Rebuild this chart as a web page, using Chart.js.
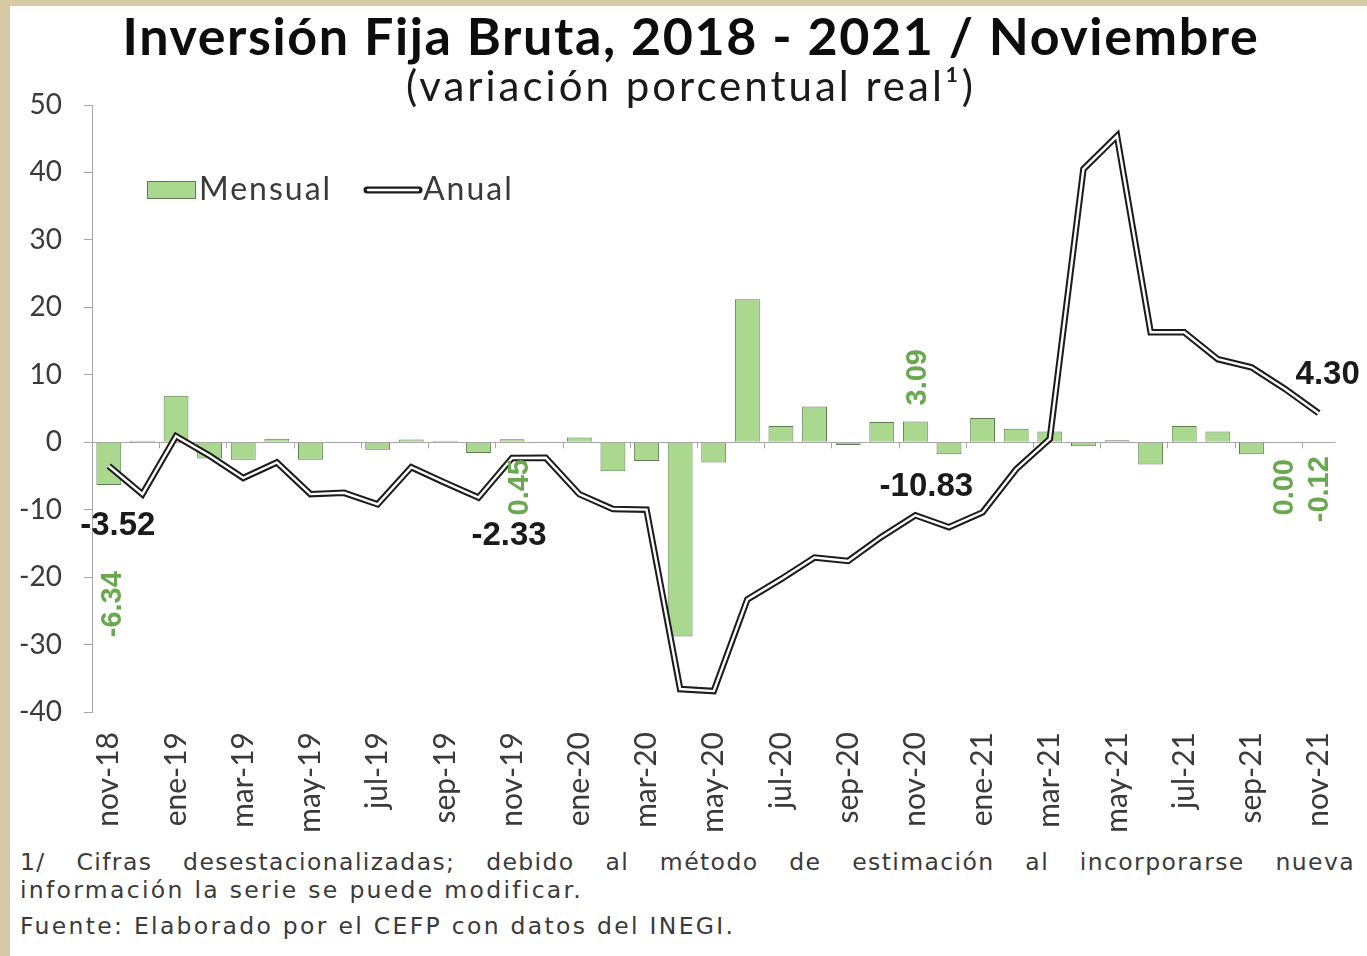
<!DOCTYPE html>
<html lang="es">
<head>
<meta charset="utf-8">
<title>Inversión Fija Bruta</title>
<script src="https://cdn.jsdelivr.net/npm/chart.js@4"></script>
<style>
  html, body { margin: 0; padding: 0; }
  body { width: 1367px; height: 956px; background: #d6caa6; position: relative; overflow: hidden; font-family: Lato, sans-serif; }
  #panel { position: absolute; left: 10px; top: 6px; right: 0; bottom: 0; background: #ffffff; }
  #contenedor { position: absolute; left: 0; top: 0; width: 1367px; height: 845px; }
  .titulo { position: absolute; left: 0; width: 1382px; text-align: center; white-space: nowrap; }
  #titulo { top: 9px; font-size: 52px; line-height: 52px; font-weight: bold; color: #0d0d0d; letter-spacing: 1.6px; }
  #subtitulo { top: 64px; font-size: 42px; line-height: 42px; color: #1a1a1a; letter-spacing: 3px; }
  #notas { position: absolute; left: 20px; top: 848px; width: 1335px; color: #3a3a3a; font-family: "DejaVu Sans", sans-serif; font-size: 23.5px; letter-spacing: 2.3px; }
  #notas div { line-height: 28px; white-space: nowrap; }
  #notas .just { text-align: justify; text-align-last: justify; white-space: normal; letter-spacing: 1.4px; }
  #notas .fuente { margin-top: 8px; }
</style>
</head>
<body>
<div id="panel"></div>
<div id="contenedor"><canvas id="grafica"></canvas></div>
<div class="titulo" id="titulo">Inversión Fija Bruta, 2018 - 2021 / Noviembre</div>
<div class="titulo" id="subtitulo">(variación porcentual real¹)</div>
<div id="notas">
  <div class="just">1/ Cifras desestacionalizadas; debido al método de estimación al incorporarse nueva</div>
  <div>información la serie se puede modificar.</div>
  <div class="fuente">Fuente: Elaborado por el CEFP con datos del INEGI.</div>
</div>
<script>
// datos del gráfico
const categorias = ['nov-18', 'dic-18', 'ene-19', 'feb-19', 'mar-19', 'abr-19', 'may-19', 'jun-19', 'jul-19', 'ago-19', 'sep-19', 'oct-19',
    'nov-19', 'dic-19', 'ene-20', 'feb-20', 'mar-20', 'abr-20', 'may-20', 'jun-20', 'jul-20', 'ago-20', 'sep-20', 'oct-20',
    'nov-20', 'dic-20', 'ene-21', 'feb-21', 'mar-21', 'abr-21', 'may-21', 'jun-21', 'jul-21', 'ago-21', 'sep-21', 'oct-21', 'nov-21'];
const mensual = [-6.34, 0.2, 6.9, -2.4, -2.6, 0.5, -2.6, -0.1, -1.1, 0.4, 0.2, -1.6,
    0.45, 0.1, 0.7, -4.3, -2.8, -28.8, -3.0, 21.2, 2.4, 5.3, -0.4, 3.0,
    3.09, -1.8, 3.6, 2.0, 1.6, -0.6, 0.3, -3.3, 2.4, 1.6, -1.8, 0.00, -0.12];
const anual = [-3.52, -7.7, 0.9, -2.0, -5.3, -3.0, -7.7, -7.5, -9.2, -3.7, -6.0, -8.2,
    -2.33, -2.3, -7.7, -9.9, -10.0, -36.6, -36.9, -23.3, -20.3, -17.1, -17.6, -14.0,
    -10.83, -12.6, -10.4, -4.0, 0.5, 40.5, 45.4, 16.3, 16.3, 12.3, 11.1, 7.9, 4.30];
const ticksY = [-40, -30, -20, -10, 0, 10, 20, 30, 40, 50];

const verdeBarra = '#a9d88e';
const bordeBarra = '#5e7d4f';
const verdeTexto = '#6aa84f';
const grisEje = '#a6a6a6';

document.addEventListener('DOMContentLoaded', () => {
    try {
        // etiquetas de datos: indice -> desplazamiento
        const etiquetas = {
            id: 'etiquetas',
            afterDatasetsDraw(chart) {
                const { ctx, scales: { x, y } } = chart;
                const y0 = y.getPixelForValue(0);
                ctx.save();
                ctx.textAlign = 'center';
                ctx.textBaseline = 'middle';

                // tick marks sobre la linea del cero
                ctx.strokeStyle = grisEje;
                ctx.lineWidth = 1;
                for (let i = 1; i < categorias.length - 1; i += 2) {
                    const xb = (x.getPixelForValue(i) + x.getPixelForValue(i + 1)) / 2;
                    ctx.beginPath();
                    ctx.moveTo(Math.round(xb) + 0.5, y0);
                    ctx.lineTo(Math.round(xb) + 0.5, y0 + 6);
                    ctx.stroke();
                }

                // anual
                const offAnual = { 0: [9, 60], 12: [-3, 78], 24: [11, -28], 36: [9, -38] };
                ctx.font = 'bold 33px "Liberation Sans"';
                ctx.fillStyle = '#1a1a1a';
                Object.keys(offAnual).forEach(k => {
                    const i = +k;
                    const [dx, dy] = offAnual[k];
                    ctx.fillText(anual[i].toFixed(2), x.getPixelForValue(i) + dx, y.getPixelForValue(anual[i]) + dy);
                });

                // mensual (texto vertical)
                const offMensual = { 0: [4, 162], 12: [8, 45], 24: [3, -65], 35: [0, 45], 36: [1, 47] };
                ctx.font = 'bold 29px "Liberation Sans"';
                ctx.fillStyle = verdeTexto;
                Object.keys(offMensual).forEach(k => {
                    const i = +k;
                    const [dx, dy] = offMensual[k];
                    ctx.save();
                    ctx.translate(x.getPixelForValue(i) + dx, y0 + dy);
                    ctx.rotate(-Math.PI / 2);
                    ctx.fillText(mensual[i].toFixed(2), 0, 0);
                    ctx.restore();
                });
                ctx.restore();
            }
        };

        // leyenda dentro del area
        const leyenda = {
            id: 'leyenda',
            afterDraw(chart) {
                const { ctx, chartArea } = chart;
                const lx = chartArea.left + 55;
                const ly = chartArea.top + 85;
                ctx.save();
                ctx.fillStyle = verdeBarra;
                ctx.fillRect(lx, ly - 9, 49, 18);
                ctx.strokeStyle = bordeBarra;
                ctx.lineWidth = 1;
                ctx.strokeRect(lx + 0.5, ly - 8.5, 48, 17);

                ctx.font = '32px Lato';
                ctx.letterSpacing = '2px';
                ctx.fillStyle = '#3a3a3a';
                ctx.textBaseline = 'middle';
                ctx.fillText('Mensual', lx + 52, ly);

                const ax = lx + 220;
                ctx.lineCap = 'round';
                ctx.strokeStyle = '#1c1c1c';
                ctx.lineWidth = 7;
                ctx.beginPath(); ctx.moveTo(ax, ly); ctx.lineTo(ax + 52, ly); ctx.stroke();
                ctx.strokeStyle = '#ffffff';
                ctx.lineWidth = 2.5;
                ctx.beginPath(); ctx.moveTo(ax + 1, ly); ctx.lineTo(ax + 51, ly); ctx.stroke();
                ctx.fillText('Anual', ax + 56, ly);
                ctx.restore();
            }
        };

        const ctx = document.getElementById('grafica').getContext('2d');
        new Chart(ctx, {
            type: 'bar',
            data: {
                labels: categorias,
                datasets: [
                    { type: 'line', label: 'Anual', data: anual, borderColor: '#1c1c1c', borderWidth: 6.5,
                      pointRadius: 0, tension: 0, fill: false, order: 2 },
                    { type: 'line', label: 'Anual interior', data: anual, borderColor: '#ffffff', borderWidth: 2.4,
                      pointRadius: 0, tension: 0, fill: false, order: 1 },
                    { type: 'bar', label: 'Mensual', data: mensual, backgroundColor: verdeBarra, borderColor: bordeBarra,
                      borderWidth: 1, barPercentage: 0.74, categoryPercentage: 1, order: 3 }
                ]
            },
            options: {
                responsive: true,
                maintainAspectRatio: false,
                animation: false,
                layout: { padding: { left: 10, right: 25, top: 105, bottom: 0 } },
                scales: {
                    x: {
                        grid: { display: false },
                        border: { display: false },
                        ticks: {
                            autoSkip: false, maxRotation: 90, minRotation: 90, padding: 12,
                            color: '#3a3a3a', font: { family: 'Lato', size: 30 },
                            callback: (v, i) => (i % 2 === 0 ? categorias[i] : '')
                        },
                        afterFit: s => { s.height = 133; }
                    },
                    y: {
                        min: -40, max: 50,
                        afterBuildTicks: s => { s.ticks = ticksY.map(v => ({ value: v })); },
                        grid: {
                            color: c => (c.tick && c.tick.value === 0 ? grisEje : 'rgba(0,0,0,0)'),
                            tickColor: grisEje, tickLength: 8, lineWidth: 1
                        },
                        border: { display: true, color: grisEje, width: 1 },
                        ticks: { padding: 22, color: '#3a3a3a', font: { family: 'Lato', size: 28 } },
                        afterFit: s => { s.width = 82; }
                    }
                },
                plugins: {
                    legend: { display: false },
                    tooltip: { enabled: false }
                }
            },
            plugins: [etiquetas, leyenda]
        });
    } catch (e) {
        console.error('Error al crear la gráfica:', e);
    }
});
</script>
</body>
</html>
